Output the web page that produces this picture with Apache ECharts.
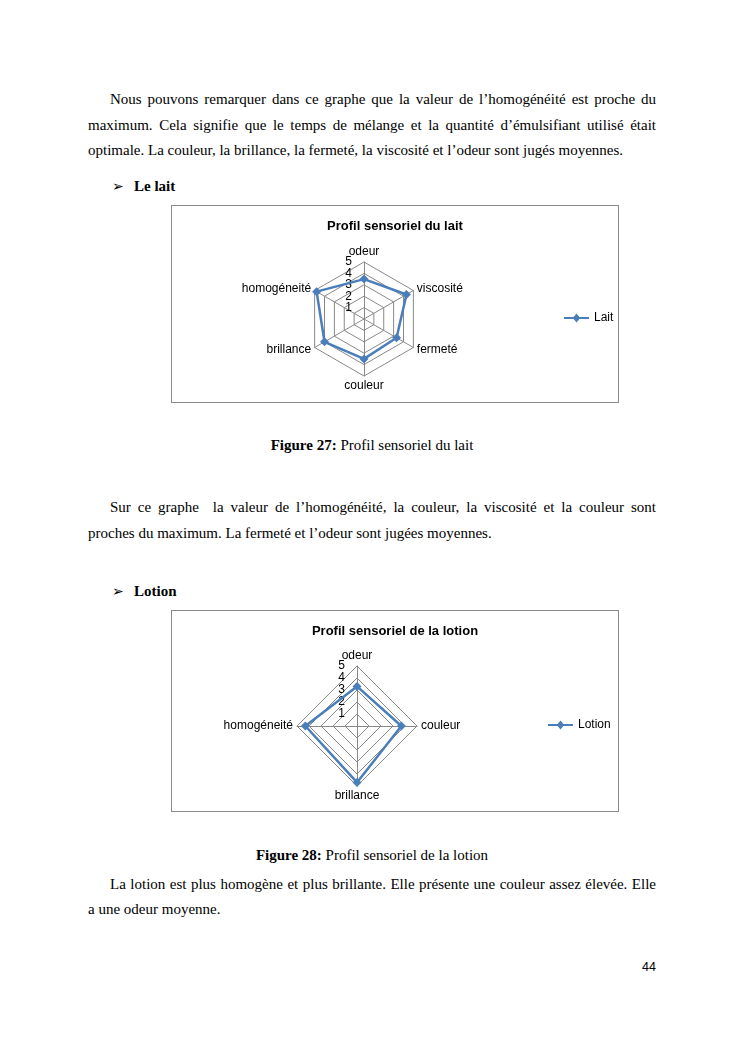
<!DOCTYPE html>
<html>
<head>
<meta charset="utf-8">
<script src="https://cdn.jsdelivr.net/npm/echarts@6/dist/echarts.min.js"></script>
<style>
  html, body { margin: 0; padding: 0; background: #fff; }
  #page { position: relative; width: 745px; height: 1053px; background: #fff;
          font-family: "Liberation Serif", "Times New Roman", serif; font-size: 15px; color: #000; }
  .ln { position: absolute; left: 88px; width: 568px; height: 25px; line-height: 25px; white-space: nowrap; }
  .just { text-align: justify; text-align-last: justify; white-space: normal; }
  .ind { left: 110px; width: 546px; }
  .head { position: absolute; left: 112px; height: 25px; line-height: 25px; font-weight: bold; }
  .head .arr { font-family: "DejaVu Sans", sans-serif; font-weight: normal; font-size: 14px; display: inline-block; width: 22px; }
  .cap { position: absolute; left: 88px; width: 568px; text-align: center; line-height: 25px; }
  .box { position: absolute; left: 171px; width: 446px; border: 1px solid #8a8a8a; }
  .box > div { width: 100%; height: 100%; }
  #pnum { position: absolute; left: 600px; width: 56px; top: 960px; text-align: right;
          font-family: "Liberation Sans", Arial, sans-serif; font-size: 12.5px; }
</style>
</head>
<body>
<div id="page">
  <div class="ln ind just" style="top:87px">Nous pouvons remarquer dans ce graphe que la valeur de l’homogénéité est proche du</div>
  <div class="ln just" style="top:113px">maximum. Cela signifie que le temps de mélange et la quantité d’émulsifiant utilisé était</div>
  <div class="ln" style="top:138px">optimale. La couleur, la brillance, la fermeté, la viscosité et l’odeur sont jugés moyennes.</div>

  <div class="head" style="top:174px"><span class="arr">➢</span>Le lait</div>

  <div class="box" style="top:205px;height:196px"><div id="chartLait"></div></div>

  <div class="cap" style="top:433px"><b>Figure 27:</b> Profil sensoriel du lait</div>

  <div class="ln ind just" style="top:495px">Sur ce graphe&nbsp; la valeur de l’homogénéité, la couleur, la viscosité et la couleur sont</div>
  <div class="ln" style="top:521px">proches du maximum. La fermeté et l’odeur sont jugées moyennes.</div>

  <div class="head" style="top:579px"><span class="arr">➢</span>Lotion</div>

  <div class="box" style="top:610px;height:200px"><div id="chartLotion"></div></div>

  <div class="cap" style="top:843px"><b>Figure 28:</b> Profil sensoriel de la lotion</div>

  <div class="ln ind just" style="top:872px">La lotion est plus homogène et plus brillante. Elle présente une couleur assez élevée. Elle</div>
  <div class="ln" style="top:897px">a une odeur moyenne.</div>

  <div id="pnum">44</div>
</div>

<script>
// categories in Excel order (clockwise from the top)
var laitCategories = ['odeur', 'viscosité', 'fermeté', 'couleur', 'brillance', 'homogéneité'];
var laitValues = [3.5, 4.3, 3.3, 3.5, 4.0, 4.8];

var lotionCategories = ['odeur', 'couleur', 'brillance', 'homogéneité'];
var lotionValues = [3.3, 3.7, 4.7, 4.3];

var scaleMin = 0;
var scaleMax = 5;

var BLUE = '#4a7ebb';
var GREY = '#888888';
var SANS = '"Liberation Sans", Arial, sans-serif';
// legend icon: line with a diamond in the middle
var LEGEND_ICON = 'path://M0,3.4 L9.6,3.4 L12.5,0 L15.4,3.4 L25,3.4 L25,5.6 L15.4,5.6 L12.5,9 L9.6,5.6 L0,5.6 Z';

var tickLabel = { color: '#000', fontFamily: SANS, fontSize: 12, margin: 12, hideOverlap: false };

// echarts puts indicators counter-clockwise, excel clockwise
function ccw(arr) {
    return [arr[0]].concat(arr.slice(1).reverse());
}

function makeIndicators(cats) {
    return ccw(cats).map(function(c, i) {
        var ind = { name: c, min: scaleMin, max: scaleMax };
        if (i === 0) {
            ind.axisLabel = { show: true }; // only the vertical axis carries labels
        }
        return ind;
    });
}

function makeRadar(domId, title, name, cats, vals, center, radius, legendLeft, legendTop) {
    var chart = echarts.init(document.getElementById(domId));
    var option = {
        animation: false,
        title: {
            text: title,
            left: 'center',
            top: 9,
            textStyle: { fontFamily: SANS, fontSize: 13, fontWeight: 'bold', color: '#000' }
        },
        legend: {
            data: [name],
            left: legendLeft,
            top: legendTop,
            padding: 0,
            icon: LEGEND_ICON,
            itemWidth: 25,
            itemHeight: 9,
            textStyle: { fontFamily: SANS, fontSize: 12, color: '#000' }
        },
        radar: [{
            center: center,
            radius: radius,
            startAngle: 90,
            shape: 'polygon',
            splitNumber: 5,
            indicator: makeIndicators(cats),
            axisName: { color: '#000', fontFamily: SANS, fontSize: 12 },
            nameGap: 4,
            axisLine: { lineStyle: { color: GREY, width: 1 } },
            splitLine: { lineStyle: { color: GREY, width: 1 } },
            splitArea: { show: false },
            axisTick: { show: false },
            // 1..4 here, 5 on the helper radar below (too close to 4 otherwise)
            axisLabel: Object.assign({ show: false, showMinLabel: false, showMaxLabel: false }, tickLabel)
        }, {
            // helper, same geometry, only carries the top tick label
            center: center,
            radius: radius,
            startAngle: 90,
            shape: 'polygon',
            splitNumber: 1,
            indicator: makeIndicators(cats),
            axisName: { show: false },
            axisLine: { show: false },
            splitLine: { show: false },
            splitArea: { show: false },
            axisTick: { show: false },
            axisLabel: Object.assign({ show: false, showMinLabel: false, showMaxLabel: true }, tickLabel),
            silent: true
        }],
        series: [{
            name: name,
            type: 'radar',
            radarIndex: 0,
            symbol: 'diamond',
            symbolSize: 9,
            lineStyle: { color: BLUE, width: 2.5 },
            itemStyle: { color: BLUE },
            data: [{ name: name, value: ccw(vals) }]
        }]
    };
    chart.setOption(option);
    return chart;
}

makeRadar('chartLait', 'Profil sensoriel du lait', 'Lait',
    laitCategories, laitValues, [192, 113], 57, 392, 106);
makeRadar('chartLotion', 'Profil sensoriel de la lotion', 'Lotion',
    lotionCategories, lotionValues, [185, 115], 60, 376, 108);
</script>
</body>
</html>
